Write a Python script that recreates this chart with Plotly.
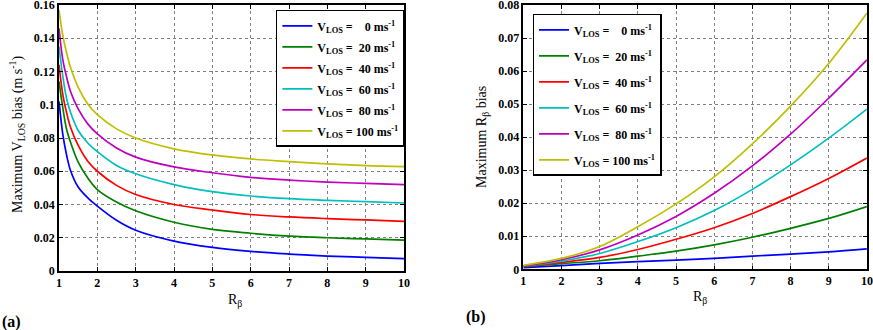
import plotly.graph_objects as go

# R_beta sample points
r_left = [1, 1.1, 1.2, 1.3, 1.5, 1.75, 2, 2.5, 3, 4, 5, 6, 7, 8, 9, 10]
r_right = [1, 2, 3, 4, 5, 6, 7, 8, 9, 10]

vlos_names = ["0", "20", "40", "60", "80", "100"]
colors = ["#0000ff", "#008000", "#ff0000", "#00bfbf", "#bf00bf", "#bfbf00"]

# (a) maximum V_LOS bias
vbias_0 = [0.102, 0.082, 0.0695, 0.0605, 0.0505, 0.044, 0.039, 0.0305, 0.0245, 0.018, 0.0142, 0.0118, 0.0102, 0.0090, 0.0082, 0.0074]
vbias_20 = [0.114, 0.098, 0.085, 0.0775, 0.0655, 0.056, 0.049, 0.0415, 0.0362, 0.0293, 0.025, 0.0227, 0.021, 0.020, 0.0193, 0.0186]
vbias_40 = [0.124, 0.106, 0.095, 0.0865, 0.0755, 0.066, 0.060, 0.0515, 0.046, 0.040, 0.0367, 0.034, 0.0325, 0.0315, 0.0307, 0.0299]
vbias_60 = [0.135, 0.117, 0.1035, 0.0955, 0.0845, 0.077, 0.0718, 0.0635, 0.0585, 0.052, 0.0477, 0.0451, 0.0435, 0.0425, 0.0417, 0.0409]
vbias_80 = [0.146, 0.127, 0.1165, 0.108, 0.0975, 0.0885, 0.0825, 0.074, 0.0685, 0.0626, 0.0591, 0.0563, 0.0547, 0.0535, 0.0527, 0.0519]
vbias_100 = [0.157, 0.1415, 0.131, 0.1225, 0.1105, 0.1005, 0.094, 0.0855, 0.080, 0.0735, 0.0698, 0.0674, 0.0658, 0.0644, 0.0634, 0.0628]

# (b) maximum R_beta bias
rbias_0 = [0.0005, 0.0011, 0.0018, 0.0023, 0.0028, 0.0033, 0.0040, 0.0046, 0.0053, 0.0062]
rbias_20 = [0.0008, 0.0017, 0.0026, 0.0040, 0.0055, 0.0074, 0.0097, 0.0124, 0.0154, 0.0190]
rbias_40 = [0.0009, 0.0021, 0.0036, 0.0060, 0.0091, 0.0126, 0.0169, 0.0220, 0.0275, 0.0337]
rbias_60 = [0.0010, 0.0025, 0.0048, 0.0084, 0.0126, 0.0178, 0.0242, 0.0316, 0.0397, 0.0485]
rbias_80 = [0.0010, 0.0029, 0.0059, 0.0104, 0.0160, 0.0230, 0.0313, 0.0409, 0.0518, 0.0634]
rbias_100 = [0.0012, 0.0033, 0.0069, 0.0129, 0.0198, 0.0280, 0.0380, 0.0494, 0.0623, 0.0775]

vbias = [vbias_0, vbias_20, vbias_40, vbias_60, vbias_80, vbias_100]
rbias = [rbias_0, rbias_20, rbias_40, rbias_60, rbias_80, rbias_100]

# tick labels
x_ticks = [1, 2, 3, 4, 5, 6, 7, 8, 9, 10]
y_ticks_a = [0, 0.02, 0.04, 0.06, 0.08, 0.1, 0.12, 0.14, 0.16]
y_ticks_b = [0, 0.01, 0.02, 0.03, 0.04, 0.05, 0.06, 0.07, 0.08]

SERIF = "Liberation Serif"
NB = "\u00a0"


def legend_label(v):
    pad = {1: NB * 4, 2: NB * 2, 3: NB}[len(v)]
    return f"V<sub>LOS</sub> ={pad}{v} ms<sup>-1</sup>"


fig = go.Figure()

for i, v in enumerate(vlos_names):
    fig.add_trace(go.Scatter(x=r_left, y=vbias[i], mode="lines", line_shape="spline",
                             line=dict(color=colors[i], width=1.7),
                             name=legend_label(v), legend="legend", legendgroup="a" + v,
                             xaxis="x", yaxis="y"))
for i, v in enumerate(vlos_names):
    fig.add_trace(go.Scatter(x=r_right, y=rbias[i], mode="lines", line_shape="spline",
                             line=dict(color=colors[i], width=1.7),
                             name=legend_label(v), legend="legend2", legendgroup="b" + v,
                             xaxis="x2", yaxis="y2"))

axis_style = dict(showline=True, linecolor="black", linewidth=1.5, mirror="all",
                  ticks="inside", ticklen=4, tickcolor="black",
                  showgrid=True, gridcolor="#808080", griddash="dot", gridwidth=1,
                  zeroline=False, automargin=False, ticklabeloverflow="allow",
                  tickfont=dict(family=SERIF, size=12, color="black", weight="bold"))

fig.update_layout(
    width=873, height=330,
    margin=dict(l=0, r=0, t=0, b=0),
    paper_bgcolor="white", plot_bgcolor="white",
    showlegend=True,
    xaxis=dict(domain=[0.0676, 0.4628], range=[1, 10], tickvals=x_ticks, anchor="y", **axis_style),
    yaxis=dict(domain=[0.1788, 0.9848], range=[0, 0.16], tickvals=y_ticks_a, anchor="x", **axis_style),
    xaxis2=dict(domain=[0.5995, 0.993], range=[1, 10], tickvals=x_ticks, anchor="y2", **axis_style),
    yaxis2=dict(domain=[0.1839, 0.9848], range=[0, 0.08], tickvals=y_ticks_b, anchor="x2", **axis_style),
    legend=dict(x=0.316, y=0.97, xanchor="left", yanchor="top",
                bgcolor="white", bordercolor="black", borderwidth=1.5,
                font=dict(family=SERIF, size=12, color="black", weight="bold"),
                tracegroupgap=2, itemwidth=30),
    legend2=dict(x=0.610, y=0.958, xanchor="left", yanchor="top",
                 bgcolor="white", bordercolor="black", borderwidth=1.5,
                 font=dict(family=SERIF, size=12, color="black", weight="bold"),
                 tracegroupgap=7, itemwidth=30),
)

ann_font = dict(family=SERIF, size=14, color="black")
annotations = [
    dict(x=235 / 873, y=1 - 300 / 330, text="R<sub>β</sub>"),
    dict(x=700 / 873, y=1 - 297 / 330, text="R<sub>β</sub>"),
    dict(x=17 / 873, y=1 - 135 / 330, text="Maximum V<sub>LOS</sub> bias (m s<sup>-1</sup>)", textangle=-90),
    dict(x=482 / 873, y=1 - 137 / 330, text="Maximum R<sub>β</sub> bias", textangle=-90),
]
for a in annotations:
    fig.add_annotation(xref="paper", yref="paper", showarrow=False, font=ann_font,
                       xanchor="center", yanchor="middle", **a)

fig.add_annotation(x=0, y=1 - 322 / 330, xref="paper", yref="paper", showarrow=False,
                   text="<b>(a)</b>", xanchor="left", yanchor="middle",
                   font=dict(family=SERIF, size=16, color="black"))
fig.add_annotation(x=464 / 873, y=1 - 317 / 330, xref="paper", yref="paper", showarrow=False,
                   text="<b>(b)</b>", xanchor="left", yanchor="middle",
                   font=dict(family=SERIF, size=16, color="black"))

# the page's default body margin would shift the whole figure by 8px
fig.write_html("out.html", config={"displayModeBar": False},
               post_script="document.body.style.margin='0px';")
